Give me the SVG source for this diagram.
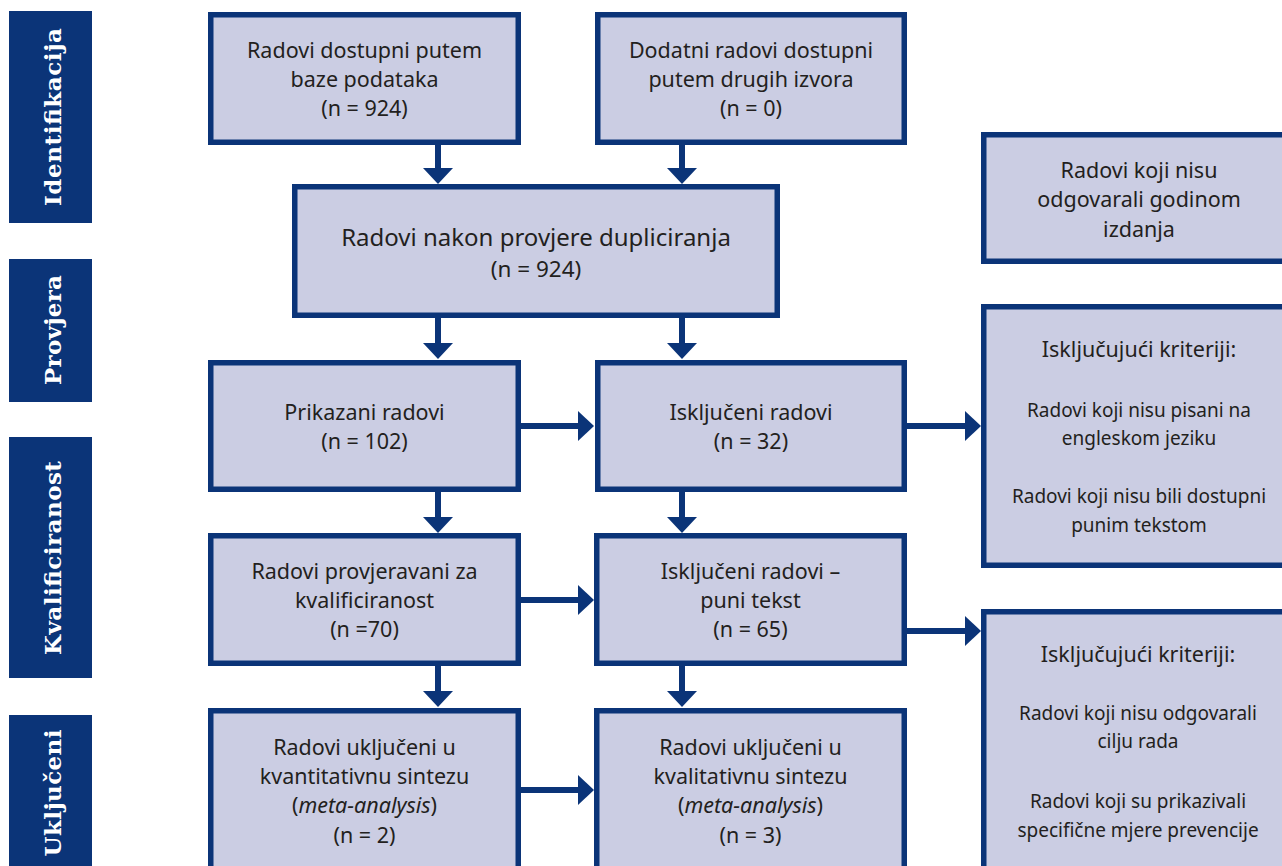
<svg xmlns="http://www.w3.org/2000/svg" width="1282" height="866" viewBox="0 0 1282 866">
<style>
.box{fill:#CBCDE3;stroke:#0B3478;stroke-width:5.5}
.side{fill:#0B3478}
.t{font-family:"Noto Sans","Open Sans",sans-serif;font-size:21.5px;fill:#231F20;text-anchor:middle}
.s{font-size:19px}
.big{font-size:24px}
.mid{font-size:22.5px}
.lab{font-family:"DejaVu Serif",serif;font-weight:bold;font-size:23px;fill:#FFFFFF;text-anchor:middle}
.conn{stroke:#0B3478;stroke-width:6;fill:none;marker-end:url(#ah)}
</style>
<defs>
<marker id="ah" markerUnits="userSpaceOnUse" viewBox="0 0 16 30" markerWidth="16" markerHeight="30" refX="0" refY="15" orient="auto">
<path d="M0,0 L16,15 L0,30 Z" fill="#0B3478"/>
</marker>
</defs>
<rect width="1282" height="866" fill="#FFFFFF"/>
<g id="stages">
<g id="stage-identifikacija"><rect class="side" x="9" y="11" width="83" height="212"/><text class="lab" transform="translate(61,117) rotate(-90)" textLength="178">Identifikacija</text></g>
<g id="stage-provjera"><rect class="side" x="9" y="259" width="83" height="143"/><text class="lab" transform="translate(61,330) rotate(-90)" textLength="110">Provjera</text></g>
<g id="stage-kvalificiranost"><rect class="side" x="9" y="437" width="83" height="241"/><text class="lab" transform="translate(61,558) rotate(-90)" textLength="194">Kvalificiranost</text></g>
<g id="stage-ukljuceni"><rect class="side" x="9" y="715" width="83" height="160"/><text class="lab" transform="translate(61,793) rotate(-90)" textLength="127">Uključeni</text></g>
</g>
<g id="connectors">
<path class="conn" d="M438,145 V168"/>
<path class="conn" d="M682,145 V168"/>
<path class="conn" d="M438,318 V343"/>
<path class="conn" d="M682,318 V343"/>
<path class="conn" d="M438,492 V517"/>
<path class="conn" d="M682,492 V517"/>
<path class="conn" d="M438,666 V691"/>
<path class="conn" d="M682,666 V691"/>
<path class="conn" d="M521,426 H578"/>
<path class="conn" d="M907,426 H965"/>
<path class="conn" d="M521,600 H578"/>
<path class="conn" d="M907,631 H965"/>
<path class="conn" d="M521,790 H578"/>
</g>
<g id="n-baze">
<rect class="box" x="210.75" y="14.75" width="307.5" height="127.5"/>
<text class="t" x="364.5" y="58">Radovi dostupni putem</text>
<text class="t" x="364.5" y="87">baze podataka</text>
<text class="t" x="364.5" y="116">(n = 924)</text>
</g>
<g id="n-dodatni">
<rect class="box" x="597.75" y="14.75" width="306.5" height="127.5"/>
<text class="t" x="751" y="58">Dodatni radovi dostupni</text>
<text class="t" x="751" y="87">putem drugih izvora</text>
<text class="t" x="751" y="116">(n = 0)</text>
</g>
<g id="n-duplikati">
<rect class="box" x="294.75" y="186.75" width="482.5" height="128.5"/>
<text class="t big" x="536" y="246">Radovi nakon provjere dupliciranja</text>
<text class="t mid" x="536" y="277">(n = 924)</text>
</g>
<g id="n-prikazani">
<rect class="box" x="210.75" y="362.75" width="307.5" height="126.5"/>
<text class="t" x="364.5" y="420">Prikazani radovi</text>
<text class="t" x="364.5" y="449">(n = 102)</text>
</g>
<g id="n-iskljuceni">
<rect class="box" x="597.75" y="362.75" width="306.5" height="126.5"/>
<text class="t" x="751" y="420">Isključeni radovi</text>
<text class="t" x="751" y="449">(n = 32)</text>
</g>
<g id="n-provjeravani">
<rect class="box" x="210.75" y="535.75" width="307.5" height="127.5"/>
<text class="t" x="364.5" y="579">Radovi provjeravani za</text>
<text class="t" x="364.5" y="608">kvalificiranost</text>
<text class="t" x="364.5" y="637">(n =70)</text>
</g>
<g id="n-iskljuceni-puni">
<rect class="box" x="596.75" y="535.75" width="307.5" height="127.5"/>
<text class="t" x="750.5" y="579">Isključeni radovi –</text>
<text class="t" x="750.5" y="608">puni tekst</text>
<text class="t" x="750.5" y="637">(n = 65)</text>
</g>
<g id="n-kvantitativna">
<rect class="box" x="210.75" y="710.75" width="307.5" height="170"/>
<text class="t" x="364.5" y="755">Radovi uključeni u</text>
<text class="t" x="364.5" y="784">kvantitativnu sintezu</text>
<text class="t" x="364.5" y="813">(<tspan font-style="italic">meta-analysis</tspan>)</text>
<text class="t" x="364.5" y="843">(n = 2)</text>
</g>
<g id="n-kvalitativna">
<rect class="box" x="596.75" y="710.75" width="307.5" height="170"/>
<text class="t" x="750.5" y="755">Radovi uključeni u</text>
<text class="t" x="750.5" y="784">kvalitativnu sintezu</text>
<text class="t" x="750.5" y="813">(<tspan font-style="italic">meta-analysis</tspan>)</text>
<text class="t" x="750.5" y="843">(n = 3)</text>
</g>
<g id="n-godina">
<rect class="box" x="983.75" y="134.75" width="320" height="126.5"/>
<text class="t" x="1139" y="178">Radovi koji nisu</text>
<text class="t" x="1139" y="207">odgovarali godinom</text>
<text class="t" x="1139" y="237">izdanja</text>
</g>
<g id="n-kriteriji-1">
<rect class="box" x="983.75" y="306.75" width="320" height="258.5"/>
<text class="t" x="1139" y="357">Isključujući kriteriji:</text>
<text class="t s" x="1139" y="417">Radovi koji nisu pisani na</text>
<text class="t s" x="1139" y="445">engleskom jeziku</text>
<text class="t s" x="1139" y="503">Radovi koji nisu bili dostupni</text>
<text class="t s" x="1139" y="532">punim tekstom</text>
</g>
<g id="n-kriteriji-2">
<rect class="box" x="983.75" y="611.75" width="320" height="300"/>
<text class="t" x="1138" y="662">Isključujući kriteriji:</text>
<text class="t s" x="1138" y="720">Radovi koji nisu odgovarali</text>
<text class="t s" x="1138" y="748">cilju rada</text>
<text class="t s" x="1138" y="808">Radovi koji su prikazivali</text>
<text class="t s" x="1138" y="837">specifične mjere prevencije</text>
</g>
</svg>
